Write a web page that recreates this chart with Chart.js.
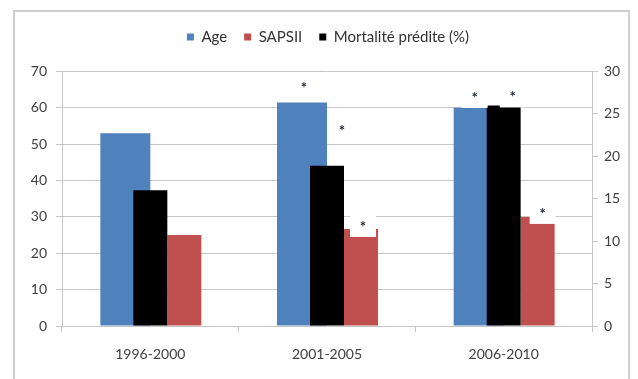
<!DOCTYPE html>
<html>
<head>
<meta charset="utf-8">
<script src="https://cdn.jsdelivr.net/npm/chart.js@4.4.0/dist/chart.umd.min.js"></script>
<style>
  html, body { margin: 0; padding: 0; background: #fff; }
  body { width: 638px; height: 379px; position: relative; overflow: hidden; }
  #frame { position: absolute; left: 13px; top: 10px; width: 617px; height: 420px; border: 2px solid #cfcfcf; box-sizing: border-box; }
  #wrap { position: absolute; left: 0; top: 0; width: 638px; height: 379px; }
</style>
</head>
<body>
<div id="frame"></div>
<div id="wrap"><canvas id="chart" width="638" height="379"></canvas></div>
<script>
const periods = ['1996-2000', '2001-2005', '2006-2010'];
const age = [53, 61.5, 60];
const sapsii = [25, 26.7, 30];
const mortalite = [16, 18.9, 26];

// significance stars (*) per period
const ageSig = [false, true, true];
const sapsiiSig = [false, true, true];
const mortaliteSig = [false, true, true];

const legendOrder = ['Age', 'SAPSII', 'Mortalité prédite (%)'];

const blue = '#4F81BD';
const red = '#C0504D';
const gridColor = '#c6c6c6';
const textColor = '#404040';

Chart.defaults.font.family = 'Lato';
Chart.defaults.color = textColor;

// one index axis per series, so each series gets its own slot in a category
const catWidth = 176.7;

// where the stars sit relative to the top of their bar (px)
const stars = [
  { ds: 0, flags: ageSig, dx: [0, 2, -4], dy: [0, -18, -14] },
  { ds: 1, flags: mortaliteSig, dx: [0, 15, 9], dy: [0, -39, -12] },
  { ds: 2, flags: sapsiiSig, dx: [0, 2, 5], dy: [0, -6, -7] }
];

const starPlugin = {
  id: 'stars',
  afterDatasetsDraw(chart) {
    const ctx = chart.ctx;
    const pts = [];
    stars.forEach(s => {
      const meta = chart.getDatasetMeta(s.ds);
      s.flags.forEach((on, i) => {
        if (!on) return;
        const bar = meta.data[i];
        pts.push({ x: bar.x + s.dx[i], y: bar.y + s.dy[i] });
      });
    });
    ctx.save();
    ctx.fillStyle = '#fff';
    pts.forEach(p => ctx.fillRect(p.x - 13, p.y - 12, 26, 26));
    ctx.fillStyle = '#1d2735';
    ctx.font = 'bold 15px Lato';
    ctx.textAlign = 'center';
    ctx.textBaseline = 'middle';
    pts.forEach(p => ctx.fillText('*', p.x, p.y + 4));
    ctx.restore();
  }
};

const legendGap = {
  id: 'legendGap',
  beforeInit(chart) {
    const fit = chart.legend.fit;
    chart.legend.fit = function () {
      fit.call(this);
      this.height += 17;
    };
  }
};

new Chart(document.getElementById('chart'), {
  type: 'bar',
  data: {
    labels: periods,
    datasets: [
      { label: 'Age', data: age, backgroundColor: blue, xAxisID: 'xAge', yAxisID: 'y',
        order: 1, categoryPercentage: 75 / catWidth, barPercentage: 2 },
      { label: 'Mortalité prédite (%)', data: mortalite, backgroundColor: '#000', xAxisID: 'x', yAxisID: 'y2',
        categoryPercentage: 102 / catWidth, barPercentage: 1 },
      { label: 'SAPSII', data: sapsii, backgroundColor: red, xAxisID: 'xSaps', yAxisID: 'y',
        categoryPercentage: 102 / catWidth, barPercentage: 1 }
    ]
  },
  options: {
    responsive: false,
    animation: false,
    layout: { padding: { left: 18, right: 0, top: 12.5, bottom: 0 } },
    plugins: {
      tooltip: { enabled: false },
      legend: {
        position: 'top',
        labels: {
          boxWidth: 7,
          boxHeight: 7,
          padding: 17,
          color: '#333',
          font: { size: 15 },
          sort: (a, b) => legendOrder.indexOf(a.text) - legendOrder.indexOf(b.text)
        }
      }
    },
    scales: {
      x: {
        type: 'category',
        offset: true,
        grid: { offset: true, drawOnChartArea: false, color: gridColor, tickLength: 6 },
        border: { color: gridColor },
        ticks: { padding: 14, font: { size: 14 }, color: textColor },
        afterFit: s => { s.height = 53; }
      },
      xAge: { type: 'category', offset: true, display: false },
      xSaps: { type: 'category', offset: true, display: false },
      y: {
        position: 'left',
        min: 0,
        max: 70,
        ticks: { stepSize: 10, padding: 9, font: { size: 14 }, color: textColor },
        grid: { color: gridColor, tickLength: 6 },
        border: { color: gridColor },
        afterFit: s => { s.width = 44; }
      },
      y2: {
        position: 'right',
        min: 0,
        max: 30,
        ticks: { stepSize: 5, padding: 6, font: { size: 14 }, color: textColor },
        grid: { drawOnChartArea: false, color: gridColor, tickLength: 6 },
        border: { color: gridColor },
        afterFit: s => { s.width = 46; }
      }
    }
  },
  plugins: [legendGap, starPlugin]
});
</script>
</body>
</html>
